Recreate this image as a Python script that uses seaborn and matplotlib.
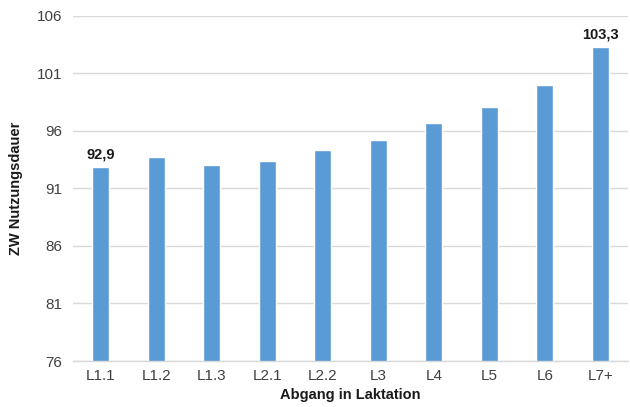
import matplotlib
matplotlib.use("Agg")
import matplotlib.pyplot as plt
import seaborn as sns
import pandas as pd

categories = ["L1.1", "L1.2", "L1.3", "L2.1", "L2.2", "L3", "L4", "L5", "L6", "L7+"]
values = [92.9, 93.7, 93.0, 93.4, 94.3, 95.2, 96.7, 98.1, 100.0, 103.3]
labelled = {"L1.1": "92,9", "L7+": "103,3"}
y_ticks = [76, 81, 86, 91, 96, 101, 106]

sns.set_theme(style="white")
plt.rcParams["font.family"] = ["Liberation Sans", "DejaVu Sans"]

df = pd.DataFrame({"Laktation": categories, "ZW": values})

fig = plt.figure(figsize=(6.3, 4.07), dpi=100)
ax = fig.add_axes([0.116, 0.113, 0.881, 0.848])

sns.barplot(data=df, x="Laktation", y="ZW", color="#5B9BD5", saturation=1,
            width=0.31, ax=ax, zorder=3)

ax.set_ylim(76, 106)
ax.set_yticks(y_ticks)
ax.set_xlim(-0.5, len(categories) - 0.5)
ax.yaxis.grid(True, color="#D9D9D9", linewidth=1, zorder=0)
ax.xaxis.grid(False)

for side in ["top", "right", "left"]:
    ax.spines[side].set_visible(False)
ax.spines["bottom"].set_color("#D9D9D9")
ax.spines["bottom"].set_linewidth(1)
ax.spines["bottom"].set_zorder(4)

ax.tick_params(axis="both", length=0, labelsize=11, labelcolor="#404040")
ax.tick_params(axis="x", pad=6)
ax.tick_params(axis="y", pad=8)

ax.set_xlabel("Abgang in Laktation", fontsize=10.5, fontweight="bold", color="#1a1a1a", labelpad=3)
ax.set_ylabel("ZW Nutzungsdauer", fontsize=10.5, fontweight="bold", color="#1a1a1a", labelpad=10)

for i, (cat, val) in enumerate(zip(categories, values)):
    if cat in labelled:
        ax.annotate(labelled[cat], (i, val), xytext=(0, 4), textcoords="offset points",
                    ha="center", va="bottom", fontsize=10.5, fontweight="bold", color="#1a1a1a")

fig.savefig("out.png", dpi=100)
